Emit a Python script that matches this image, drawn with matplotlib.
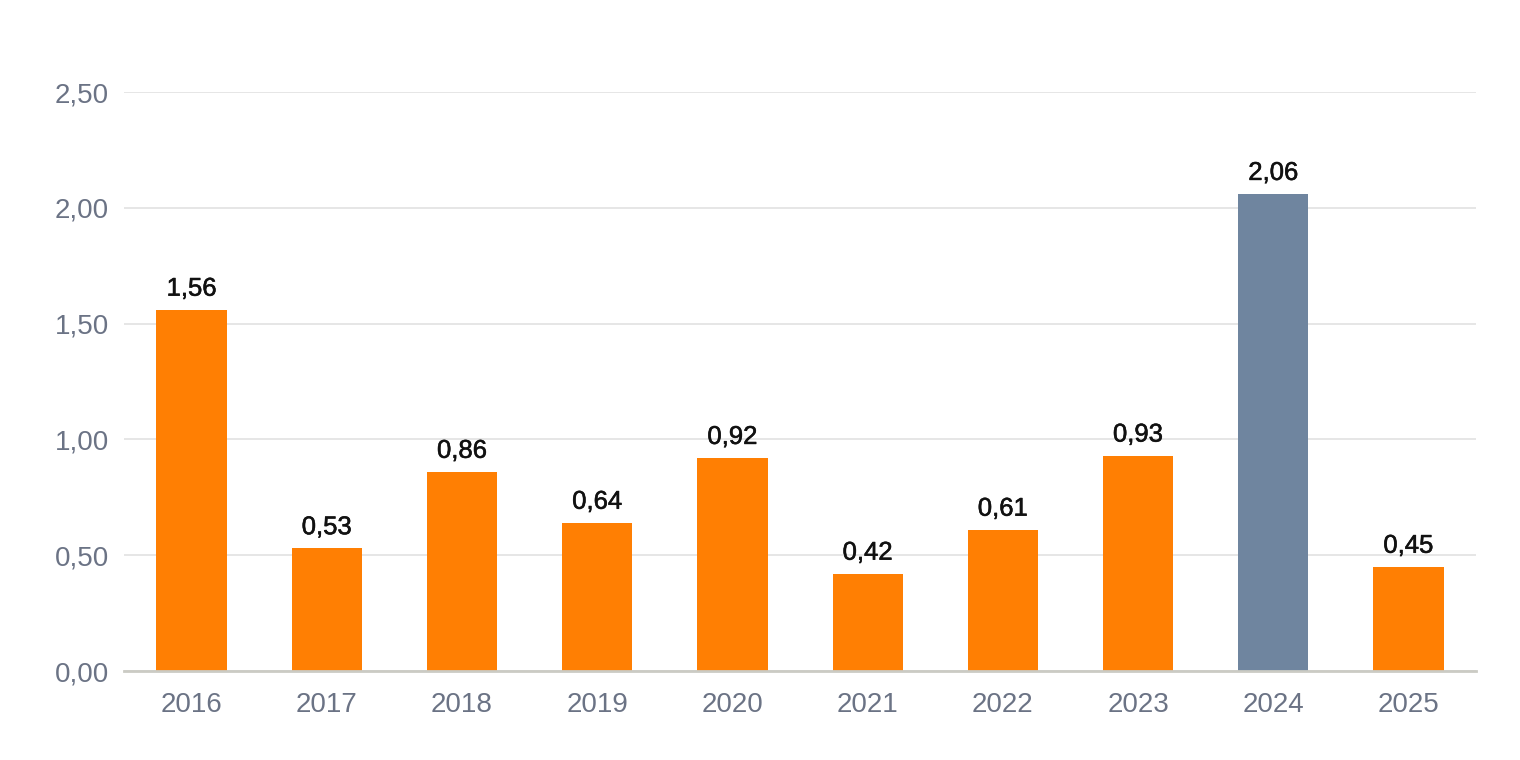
import matplotlib.pyplot as plt
import matplotlib.patheffects as pe
from matplotlib.ticker import FuncFormatter

plt.rcParams['font.family'] = ['Liberation Sans', 'DejaVu Sans']

years = ['2016', '2017', '2018', '2019', '2020', '2021', '2022', '2023', '2024', '2025']
values = [1.56, 0.53, 0.86, 0.64, 0.92, 0.42, 0.61, 0.93, 2.06, 0.45]
highlight = '2024'

orange = '#FF7F03'
slate = '#6F859F'
colors = [slate if y == highlight else orange for y in years]

fig = plt.figure(figsize=(15.2, 7.6), dpi=100)
ax = fig.add_axes([0.0816, 0.1171, 0.8895, 0.7618])

x = range(len(years))
bars = ax.bar(x, values, width=0.52, color=colors, zorder=3)

for b, v in zip(bars, values):
    ax.annotate(f'{v:.2f}'.replace('.', ','), (b.get_x() + b.get_width() / 2, v),
                xytext=(0, 6.5), textcoords='offset points', ha='center', va='bottom',
                fontsize=18.5, color='#111111',
                path_effects=[pe.withStroke(linewidth=0.4, foreground='#111111')])

ax.set_xlim(-0.5, len(years) - 0.5)
ax.set_ylim(0, 2.5)
ax.set_yticks([0, 0.5, 1.0, 1.5, 2.0, 2.5])
ax.yaxis.set_major_formatter(FuncFormatter(lambda v, p: f'{v:.2f}'.replace('.', ',')))
ax.set_xticks(list(x))
ax.set_xticklabels(years)

ax.grid(axis='y', color='#E2E2E2', linewidth=1.2, zorder=0)
for s in ['top', 'right', 'left']:
    ax.spines[s].set_visible(False)
ax.spines['bottom'].set_color('#CBCBC4')
ax.spines['bottom'].set_linewidth(2)
ax.spines['bottom'].set_zorder(4)

ax.tick_params(axis='both', length=0, labelsize=20, labelcolor='#6B7385')
ax.tick_params(axis='y', pad=11)
ax.tick_params(axis='x', pad=15)

fig.savefig('out.png', dpi=100)
